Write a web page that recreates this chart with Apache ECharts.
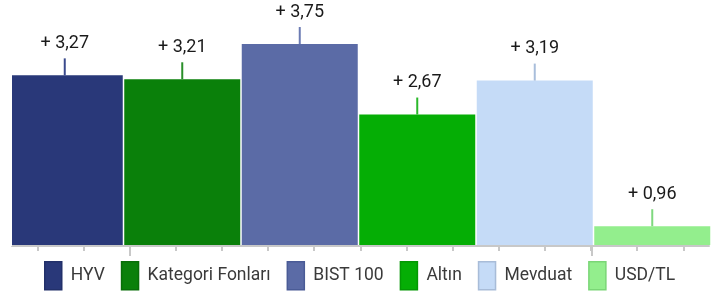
<!DOCTYPE html>
<html>
<head>
<meta charset="utf-8">
<script src="https://cdn.jsdelivr.net/npm/echarts@6/dist/echarts.min.js"></script>
<style>
  html, body { margin: 0; padding: 0; background: #fff; }
  #chart { width: 728px; height: 292px; }
</style>
</head>
<body>
<div id="chart"></div>
<script>
const categories = ['HYV', 'Kategori Fonları', 'BIST 100', 'Altın', 'Mevduat', 'USD/TL']
const values = [3.27, 3.21, 3.75, 2.67, 3.19, 0.96]
const barColors = ['#293879', '#0a800a', '#5b6ba6', '#05ae05', '#c5dbf7', '#93ee8d']
const lineColors = ['#3a4a8c', '#2a8f2a', '#6b7bb3', '#2bb82b', '#a9bedb', '#7fd87f']
const borderColors = ['#22306a', '#086e08', '#4a5b96', '#049804', '#a8bcd8', '#7ad676']

const fmt = (v) => '+ ' + v.toFixed(2).replace('.', ',')

const chart = echarts.init(document.getElementById('chart'))

const series = categories.map((name, i) => ({
  name: name,
  type: 'bar',
  xAxisIndex: 0,
  yAxisIndex: 0,
  barWidth: 116,
  barGap: '-100%',
  data: categories.map((c, j) => (j === i ? values[i] : '-')),
  itemStyle: { color: barColors[i] },
  label: {
    show: true,
    position: 'top',
    distance: 0,
    formatter: (p) => '{t|' + fmt(p.value) + '}\n{l|}',
    rich: {
      t: { fontSize: 18, lineHeight: 30, color: '#1a1a1a', fontFamily: 'Roboto' },
      l: { width: 2, height: 17, lineHeight: 17, backgroundColor: lineColors[i] }
    }
  }
}))

const option = {
  animation: false,
  legend: {
    left: 44,
    top: 261,
    padding: 0,
    icon: 'rect',
    itemWidth: 17,
    itemHeight: 28,
    itemGap: 16,
    textStyle: { fontSize: 17.5, color: '#3a3a3a', fontFamily: 'Roboto', padding: [0, 0, 0, 4] },
    data: categories.map((name, i) => ({
      name: name,
      itemStyle: { color: barColors[i], borderColor: borderColors[i], borderWidth: 1.5 }
    }))
  },
  grid: [
    { left: 6, right: 17, top: 27.7, bottom: 47 },
    { left: 12, right: 19, top: 27.7, bottom: 46 },
    { left: 37.3, right: 44.7, top: 27.7, bottom: 45 },
    { left: 129.3, right: 136.7, top: 27.7, bottom: 45 }
  ],
  xAxis: [
    {
      gridIndex: 0, type: 'category', data: categories,
      axisLine: { show: false }, axisTick: { show: false }, axisLabel: { show: false }
    },
    {
      gridIndex: 1, type: 'value', min: 0, max: 1,
      axisLine: { show: true, lineStyle: { color: '#c8c8c8', width: 2 } },
      axisTick: { show: false }, axisLabel: { show: false }, splitLine: { show: false }
    },
    {
      gridIndex: 2, type: 'value', min: 0, max: 14, interval: 1,
      axisLine: { show: false },
      axisTick: { show: true, length: 4, lineStyle: { color: '#c8c8c8', width: 2 } },
      axisLabel: { show: false }, splitLine: { show: false }
    },
    {
      gridIndex: 3, type: 'value', min: 0, max: 10, interval: 10,
      axisLine: { show: false },
      axisTick: { show: true, length: 9, lineStyle: { color: '#c8c8c8', width: 2 } },
      axisLabel: { show: false }, splitLine: { show: false }
    }
  ],
  yAxis: [
    { gridIndex: 0, type: 'value', min: 0.672, max: 4, show: false },
    { gridIndex: 1, type: 'value', show: false },
    { gridIndex: 2, type: 'value', show: false },
    { gridIndex: 3, type: 'value', show: false }
  ],
  graphic: [
    { type: 'rect', z: 100, shape: { x: 0, y: 0, width: 12, height: 246 }, style: { fill: '#fff' } }
  ],
  series: series
}

chart.setOption(option)
</script>
</body>
</html>
